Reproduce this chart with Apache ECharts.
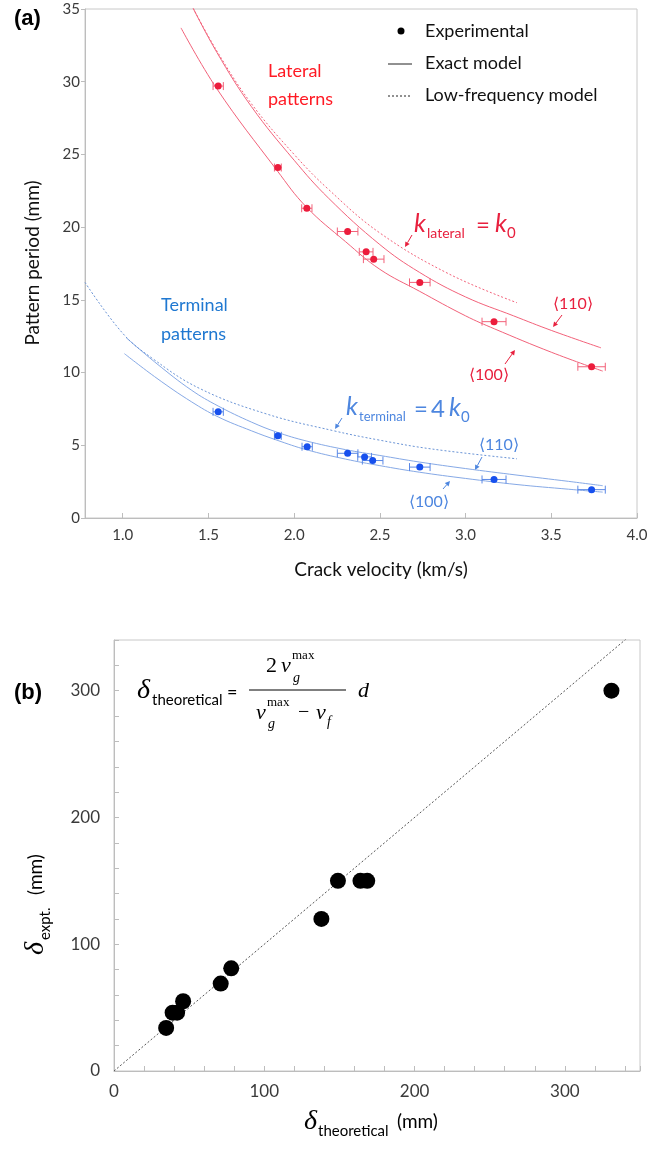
<!DOCTYPE html>
<html>
<head>
<meta charset="utf-8">
<script src="https://cdn.jsdelivr.net/npm/echarts@6/dist/echarts.min.js"></script>
<style>
html, body { margin: 0; padding: 0; background: #fff; }
#main { width: 668px; height: 1153px; }
</style>
</head>
<body>
<div id="main"></div>
<script>
// ---- panel (a): experimental points (velocity km/s, period mm, velocity error)
var lateralVel = [1.557, 1.905, 2.074, 2.312, 2.42, 2.464, 2.733, 3.166, 3.735];
var lateralPeriod = [29.7, 24.1, 21.3, 19.7, 18.3, 17.8, 16.2, 13.5, 10.4];
var lateralErr = [0.03, 0.02, 0.03, 0.06, 0.04, 0.06, 0.06, 0.07, 0.08];

var terminalVel = [1.557, 1.905, 2.076, 2.312, 2.411, 2.458, 2.733, 3.166, 3.735];
var terminalPeriod = [7.3, 5.65, 4.9, 4.45, 4.2, 3.95, 3.5, 2.65, 1.95];
var terminalErr = [0.03, 0.02, 0.03, 0.06, 0.04, 0.06, 0.06, 0.07, 0.08];

// model curves
var lat110Vel = [1.40, 1.55, 1.75, 2.0, 2.2, 2.5, 2.73, 3.0, 3.28, 3.5, 3.79];
var lat110Period = [35.3, 32.0, 28.3, 24.6, 22.0, 18.8, 16.9, 15.2, 13.9, 12.9, 11.7];
var lat100Vel = [1.34, 1.55, 1.9, 2.07, 2.3, 2.5, 2.73, 3.0, 3.17, 3.5, 3.8];
var lat100Period = [33.7, 29.5, 23.9, 21.4, 19.0, 17.1, 15.6, 13.9, 13.0, 11.4, 10.1];
var latLowVel = [1.40, 1.55, 1.75, 2.0, 2.2, 2.5, 2.9, 3.3];
var latLowPeriod = [35.3, 32.1, 28.5, 25.0, 22.6, 19.6, 16.8, 14.8];

var term110Vel = [1.02, 1.2, 1.4, 1.557, 1.75, 1.9, 2.07, 2.3, 2.5, 2.73, 3.0, 3.3, 3.6, 3.8];
var term110Period = [12.4, 10.6, 8.8, 7.7, 6.6, 5.9, 5.3, 4.7, 4.3, 3.85, 3.4, 2.95, 2.52, 2.22];
var term100Vel = [1.01, 1.2, 1.4, 1.557, 1.75, 1.9, 2.07, 2.3, 2.5, 2.73, 3.0, 3.3, 3.6, 3.8];
var term100Period = [11.3, 9.6, 8.0, 6.95, 6.0, 5.35, 4.7, 4.05, 3.6, 3.15, 2.72, 2.3, 1.98, 1.78];
var termLowVel = [0.78, 1.0, 1.17, 1.45, 1.84, 2.23, 2.5, 2.8, 3.3];
var termLowPeriod = [16.2, 12.7, 11.0, 8.9, 7.15, 6.0, 5.35, 4.75, 4.07];

var velTicks = [1.0, 1.5, 2.0, 2.5, 3.0, 3.5, 4.0];

// ---- panel (b)
var deltaTheo = [34.7, 39, 42, 46, 71, 78, 138, 149, 164, 168.5, 331];
var deltaExpt = [34, 46, 46, 55, 69, 81, 120, 150, 150, 150, 300];
var identityLine = [0, 350];

var RED_DOT = '#ec1c3c', RED_LINE = '#f2627a', RED_TXT = '#e8203e';
var BLUE_DOT = '#1750ee', BLUE_LINE = '#86a9e6', BLUE_TXT = '#4d86df';
var AXIS = '#bdbdbd', LABEL = '#3a3a3a';

function pairs(xs, ys) {
    return xs.map(function (x, i) { return [x, ys[i]]; });
}
function triples(xs, ys, es) {
    return xs.map(function (x, i) { return [x, ys[i], es[i]]; });
}

function errorBar(params, api) {
    var y = api.value(1);
    var lo = api.coord([api.value(0) - api.value(2), y]);
    var hi = api.coord([api.value(0) + api.value(2), y]);
    var cap = 4;
    var style = { stroke: api.visual('color'), lineWidth: 1 };
    return {
        type: 'group',
        children: [
            { type: 'line', shape: { x1: lo[0], y1: lo[1], x2: hi[0], y2: hi[1] }, style: style },
            { type: 'line', shape: { x1: lo[0], y1: lo[1] - cap, x2: lo[0], y2: lo[1] + cap }, style: style },
            { type: 'line', shape: { x1: hi[0], y1: hi[1] - cap, x2: hi[0], y2: hi[1] + cap }, style: style }
        ]
    };
}

function curve(name, xs, ys, color, dashed) {
    return {
        name: name, type: 'line', xAxisIndex: 0, yAxisIndex: 0,
        data: pairs(xs, ys), smooth: 0.4, showSymbol: false, silent: true,
        lineStyle: { color: color, width: 1, type: dashed ? [2, 2] : 'solid' },
        z: 2
    };
}

// text helper for annotations
function txt(s, x, y, font, color, align) {
    return {
        type: 'text', x: x, y: y, silent: true,
        style: {
            text: s, font: font, fill: color,
            align: align || 'left', verticalAlign: 'middle',
            textAlign: align || 'left', textVerticalAlign: 'middle'
        }
    };
}
function arrow(x1, y1, x2, y2, color) {
    var a = Math.atan2(y2 - y1, x2 - x1), h = 5, w = 2.5;
    var bx = x2 - h * Math.cos(a), by = y2 - h * Math.sin(a);
    return {
        type: 'group', silent: true,
        children: [
            { type: 'line', shape: { x1: x1, y1: y1, x2: bx, y2: by }, style: { stroke: color, lineWidth: 1 } },
            { type: 'polygon', shape: { points: [[x2, y2],
                [bx + w * Math.sin(a), by - w * Math.cos(a)],
                [bx - w * Math.sin(a), by + w * Math.cos(a)]] }, style: { fill: color } }
        ]
    };
}

var SANS = 'Lato, "Open Sans", sans-serif';
var SERIF = '"Liberation Serif", "DejaVu Serif", serif';

var myChart = echarts.init(document.getElementById('main'));

var option = {
    animation: false,
    backgroundColor: '#fff',
    grid: [
        { left: 85, top: 9, width: 552, height: 509, show: true, borderColor: '#c8c8c8', borderWidth: 1 },
        { left: 114, top: 640, width: 526, height: 431, show: true, borderColor: '#c8c8c8', borderWidth: 1 }
    ],
    xAxis: [
        {
            gridIndex: 0, type: 'value', min: 0.78, max: 4.0,
            axisLine: { lineStyle: { color: AXIS } },
            axisTick: { inside: true, length: 5, customValues: velTicks, lineStyle: { color: AXIS } },
            axisLabel: {
                customValues: velTicks, color: LABEL, fontSize: 15, fontFamily: SANS, margin: 10,
                formatter: function (v) { return v.toFixed(1); }
            },
            splitLine: { show: false }
        },
        {
            gridIndex: 1, type: 'value', min: 0, max: 350, interval: 20,
            axisLine: { lineStyle: { color: AXIS } },
            axisTick: { inside: true, length: 5, lineStyle: { color: AXIS } },
            axisLabel: {
                color: LABEL, fontSize: 17, fontFamily: SANS, margin: 12,
                formatter: function (v) { return v % 100 === 0 ? String(v) : ''; }
            },
            splitLine: { show: false }
        }
    ],
    yAxis: [
        {
            gridIndex: 0, type: 'value', min: 0, max: 35, interval: 5,
            axisLine: { show: true, lineStyle: { color: AXIS } },
            axisTick: { show: true, inside: false, length: 4, lineStyle: { color: AXIS } },
            axisLabel: { color: LABEL, fontSize: 15, fontFamily: SANS, margin: 5 },
            splitLine: { show: false }
        },
        {
            gridIndex: 1, type: 'value', min: 0, max: 340, interval: 20,
            axisLine: { show: true, lineStyle: { color: AXIS } },
            axisTick: { show: true, inside: true, length: 5, lineStyle: { color: AXIS } },
            axisLabel: {
                color: LABEL, fontSize: 17, fontFamily: SANS, margin: 14,
                formatter: function (v) { return v % 100 === 0 ? String(v) : ''; }
            },
            splitLine: { show: false }
        }
    ],
    series: [
        curve('lateral 110', lat110Vel, lat110Period, RED_LINE, false),
        curve('lateral 100', lat100Vel, lat100Period, RED_LINE, false),
        curve('lateral low-frequency', latLowVel, latLowPeriod, RED_LINE, true),
        curve('terminal 110', term110Vel, term110Period, BLUE_LINE, false),
        curve('terminal 100', term100Vel, term100Period, BLUE_LINE, false),
        curve('terminal low-frequency', termLowVel, termLowPeriod, '#6a94d6', true),
        {
            name: 'lateral err', type: 'custom', xAxisIndex: 0, yAxisIndex: 0,
            renderItem: errorBar, encode: { x: 0, y: 1 },
            itemStyle: { color: RED_LINE }, data: triples(lateralVel, lateralPeriod, lateralErr), z: 3
        },
        {
            name: 'terminal err', type: 'custom', xAxisIndex: 0, yAxisIndex: 0,
            renderItem: errorBar, encode: { x: 0, y: 1 },
            itemStyle: { color: '#5a88e6' }, data: triples(terminalVel, terminalPeriod, terminalErr), z: 3
        },
        {
            name: 'lateral', type: 'scatter', xAxisIndex: 0, yAxisIndex: 0,
            symbolSize: 7, itemStyle: { color: RED_DOT, opacity: 1 }, data: pairs(lateralVel, lateralPeriod), z: 4
        },
        {
            name: 'terminal', type: 'scatter', xAxisIndex: 0, yAxisIndex: 0,
            symbolSize: 7, itemStyle: { color: BLUE_DOT, opacity: 1 }, data: pairs(terminalVel, terminalPeriod), z: 4
        },
        {
            name: 'identity', type: 'line', xAxisIndex: 1, yAxisIndex: 1,
            data: pairs(identityLine, identityLine), showSymbol: false, silent: true,
            lineStyle: { color: '#555', width: 1, type: [2, 2] }, z: 2
        },
        {
            name: 'delta', type: 'scatter', xAxisIndex: 1, yAxisIndex: 1,
            symbolSize: 16, itemStyle: { color: '#000', opacity: 1 }, data: pairs(deltaTheo, deltaExpt), z: 4
        }
    ],
    graphic: [
        // panel labels
        txt('(a)', 14, 19, 'bold 22px "Liberation Sans", Arial, sans-serif', '#000'),
        txt('(b)', 14, 693, 'bold 22px "Liberation Sans", Arial, sans-serif', '#000'),

        // axis titles, panel (a)
        {
            type: 'text', x: 33, y: 263, rotation: Math.PI / 2, silent: true,
            style: { text: 'Pattern period (mm)', font: '19px ' + SANS, fill: '#111',
                align: 'center', verticalAlign: 'middle', textAlign: 'center', textVerticalAlign: 'middle' }
        },
        txt('Crack velocity (km/s)', 381, 570, '19px ' + SANS, '#111', 'center'),

        // legend
        { type: 'circle', shape: { cx: 401, cy: 31, r: 3.5 }, style: { fill: '#000' }, silent: true },
        txt('Experimental', 425, 31, '18px ' + SANS, '#111'),
        { type: 'line', shape: { x1: 388, y1: 64, x2: 412, y2: 64 }, style: { stroke: '#222', lineWidth: 1 }, silent: true },
        txt('Exact model', 425, 63, '18px ' + SANS, '#111'),
        { type: 'line', shape: { x1: 388, y1: 96, x2: 412, y2: 96 }, style: { stroke: '#222', lineWidth: 1, lineDash: [2, 2] }, silent: true },
        txt('Low-frequency model', 425, 95, '18px ' + SANS, '#111'),

        // lateral annotations
        txt('Lateral', 268, 71, '18px ' + SANS, '#ff1a24'),
        txt('patterns', 268, 99, '18px ' + SANS, '#ff1a24'),
        txt('k', 414, 224, 'italic 25px ' + SANS, RED_TXT),
        txt('lateral', 427, 233, '14px ' + SANS, RED_TXT),
        txt('=', 476, 225, '24px ' + SANS, RED_TXT),
        txt('k', 495, 224, 'italic 25px ' + SANS, RED_TXT),
        txt('0', 507, 233, '15px ' + SANS, RED_TXT),
        arrow(412, 235, 405, 247, RED_TXT),
        txt('\u27E8110\u27E9', 553, 304, '16px ' + SANS, RED_TXT),
        arrow(562, 315, 553, 327, RED_TXT),
        txt('\u27E8100\u27E9', 469, 375, '16px ' + SANS, RED_TXT),
        arrow(505, 364, 515, 350, RED_TXT),

        // terminal annotations
        txt('Terminal', 161, 305, '18px ' + SANS, '#1f78d1'),
        txt('patterns', 161, 334, '18px ' + SANS, '#1f78d1'),
        txt('k', 346, 407, 'italic 25px ' + SANS, BLUE_TXT),
        txt('terminal', 359, 417, '13px ' + SANS, BLUE_TXT),
        txt('=', 414, 409, '24px ' + SANS, BLUE_TXT),
        txt('4', 431, 409, '24px ' + SANS, BLUE_TXT),
        txt('k', 449, 408, 'italic 25px ' + SANS, BLUE_TXT),
        txt('0', 461, 417, '15px ' + SANS, BLUE_TXT),
        arrow(342, 418, 335, 429, BLUE_TXT),
        txt('\u27E8110\u27E9', 479, 445, '16px ' + SANS, BLUE_TXT),
        arrow(482, 457, 475, 470, BLUE_TXT),
        txt('\u27E8100\u27E9', 409, 502, '16px ' + SANS, BLUE_TXT),
        arrow(443, 489, 450, 481, BLUE_TXT),

        // formula, panel (b)
        txt('\u03B4', 137, 691, 'italic 28px ' + SERIF, '#000'),
        txt('theoretical', 152, 700, '15px ' + SANS, '#000'),
        txt('=', 227, 692, '18px ' + SANS, '#000'),
        txt('2', 266, 666, '22px ' + SERIF, '#000'),
        txt('v', 281, 666, 'italic 22px ' + SERIF, '#000'),
        txt('max', 292, 656, '13px ' + SERIF, '#000'),
        txt('g', 293, 678, 'italic 14px ' + SERIF, '#000'),
        { type: 'line', shape: { x1: 249, y1: 690, x2: 346, y2: 690 }, style: { stroke: '#000', lineWidth: 1 }, silent: true },
        txt('v', 256, 713, 'italic 22px ' + SERIF, '#000'),
        txt('max', 267, 703, '13px ' + SERIF, '#000'),
        txt('g', 268, 724, 'italic 14px ' + SERIF, '#000'),
        txt('\u2212', 298, 713, '20px ' + SERIF, '#000'),
        txt('v', 316, 713, 'italic 22px ' + SERIF, '#000'),
        txt('f', 327, 722, 'italic 14px ' + SERIF, '#000'),
        txt('d', 358, 691, 'italic 22px ' + SERIF, '#000'),

        // axis titles, panel (b)
        {
            type: 'group', x: 36, y: 955, rotation: Math.PI / 2, silent: true,
            children: [
                txt('\u03B4', 0, 0, 'italic 28px ' + SERIF, '#000'),
                txt('expt.', 15, 9, '15px ' + SANS, '#000'),
                txt('(mm)', 60, 0, '19px ' + SANS, '#000')
            ]
        },
        txt('\u03B4', 304, 1122, 'italic 28px ' + SERIF, '#000'),
        txt('theoretical', 318, 1131, '15px ' + SANS, '#000'),
        txt('(mm)', 397, 1122, '19px ' + SANS, '#000')
    ]
};

myChart.setOption(option);
window.addEventListener('resize', function () {
    myChart.resize();
});
</script>
</body>
</html>
